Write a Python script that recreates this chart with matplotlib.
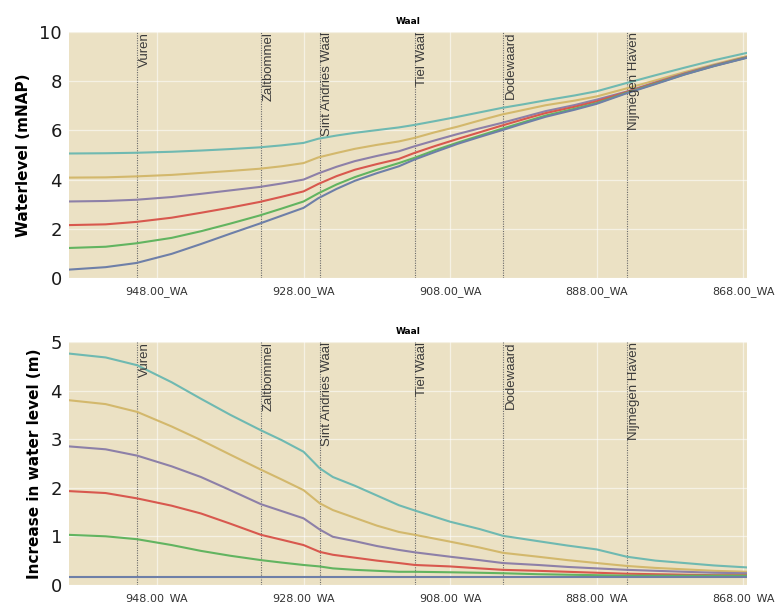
import matplotlib
matplotlib.use("Agg")
import matplotlib.pyplot as plt
from matplotlib.ticker import FixedLocator, FuncFormatter

# River kilometre stations along the Waal
km_level = [960, 955, 950.8, 946, 942, 938, 934, 931, 928, 926, 923.5, 921,
            918, 915, 912.9, 910, 907, 904, 901, 898, 895, 891, 888, 884, 880,
            876, 872, 867.5]
km_rise = [960, 955, 950.7, 946, 942, 938, 933.8, 931, 928, 925.8, 924, 921,
           918, 915, 912.8, 908, 904, 900.8, 896, 892, 888, 883.9, 880, 876,
           872, 867.5]

# Water level (m NAP) for six discharge scenarios
level_teal = [5.06, 5.07, 5.09, 5.13, 5.18, 5.24, 5.31, 5.39, 5.49, 5.66, 5.79,
              5.90, 6.01, 6.12, 6.22, 6.38, 6.55, 6.73, 6.91, 7.06, 7.22, 7.42,
              7.59, 7.92, 8.24, 8.55, 8.85, 9.15]
level_yellow = [4.08, 4.09, 4.13, 4.19, 4.27, 4.35, 4.44, 4.54, 4.67, 4.90, 5.08,
                5.25, 5.41, 5.55, 5.69, 5.93, 6.15, 6.40, 6.64, 6.83, 7.02, 7.21,
                7.38, 7.70, 8.03, 8.37, 8.68, 9.02]
level_purple = [3.11, 3.13, 3.18, 3.29, 3.42, 3.56, 3.70, 3.84, 4.00, 4.25, 4.52,
                4.75, 4.96, 5.15, 5.35, 5.60, 5.85, 6.08, 6.30, 6.54, 6.78, 7.03,
                7.25, 7.57, 7.95, 8.32, 8.65, 8.98]
level_red = [2.15, 2.18, 2.28, 2.45, 2.65, 2.86, 3.09, 3.30, 3.52, 3.82, 4.14,
             4.40, 4.63, 4.84, 5.08, 5.37, 5.65, 5.92, 6.19, 6.45, 6.70, 6.96,
             7.18, 7.55, 7.93, 8.30, 8.63, 8.97]
level_green = [1.22, 1.27, 1.41, 1.63, 1.90, 2.21, 2.54, 2.82, 3.11, 3.44, 3.80,
               4.10, 4.40, 4.67, 4.88, 5.20, 5.50, 5.78, 6.06, 6.33, 6.60, 6.88,
               7.11, 7.52, 7.90, 8.28, 8.62, 8.96]
level_blue = [0.34, 0.44, 0.61, 0.98, 1.38, 1.80, 2.21, 2.53, 2.85, 3.24, 3.62,
              3.95, 4.26, 4.54, 4.81, 5.13, 5.45, 5.73, 6.00, 6.28, 6.55, 6.84,
              7.08, 7.50, 7.88, 8.27, 8.61, 8.95]

# Increase in water level (m)
rise_teal = [4.76, 4.68, 4.52, 4.17, 3.83, 3.50, 3.18, 2.98, 2.74, 2.40, 2.22,
             2.04, 1.84, 1.64, 1.53, 1.30, 1.15, 1.01, 0.90, 0.81, 0.73, 0.58,
             0.50, 0.45, 0.40, 0.36]
rise_yellow = [3.80, 3.72, 3.56, 3.26, 2.98, 2.68, 2.37, 2.17, 1.95, 1.68, 1.54,
               1.38, 1.22, 1.09, 1.03, 0.89, 0.77, 0.66, 0.58, 0.51, 0.45, 0.39,
               0.35, 0.32, 0.29, 0.27]
rise_purple = [2.85, 2.79, 2.66, 2.44, 2.22, 1.95, 1.66, 1.52, 1.37, 1.14, 0.99,
               0.90, 0.80, 0.72, 0.67, 0.58, 0.51, 0.45, 0.41, 0.37, 0.34, 0.31,
               0.29, 0.27, 0.25, 0.24]
rise_red = [1.93, 1.89, 1.78, 1.63, 1.47, 1.26, 1.03, 0.93, 0.82, 0.68, 0.62,
            0.56, 0.50, 0.45, 0.41, 0.38, 0.34, 0.31, 0.29, 0.27, 0.25, 0.23,
            0.22, 0.21, 0.20, 0.20]
rise_green = [1.03, 1.00, 0.94, 0.82, 0.70, 0.60, 0.51, 0.46, 0.41, 0.38, 0.34,
              0.31, 0.29, 0.27, 0.27, 0.26, 0.25, 0.24, 0.22, 0.21, 0.20, 0.19,
              0.19, 0.19, 0.19, 0.19]
rise_blue = [0.17] * 26

# Named locations along the river
station_names = ["Vuren", "Zaltbommel", "Sint Andries Waal", "Tiel Waal",
                 "Dodewaard", "Nijmegen Haven"]
station_km = [950.7, 933.8, 925.8, 912.8, 900.8, 883.9]

x_ticks = [948, 928, 908, 888, 868]

colors = ["#6fb9b1", "#d3b86c", "#8d80a8", "#d8584e", "#62b460", "#6e7fa8"]
bg = "#ebe1c4"

fig = plt.figure(figsize=(7.77, 6.03), dpi=100)
ax1 = fig.add_axes([0.0888, 0.539, 0.8726, 0.408])
ax2 = fig.add_axes([0.0888, 0.030, 0.8726, 0.403])

panels = [
    (ax1, km_level, [level_teal, level_yellow, level_purple, level_red,
                     level_green, level_blue], (0, 10), [0, 2, 4, 6, 8, 10],
     "Waterlevel (mNAP)"),
    (ax2, km_rise, [rise_teal, rise_yellow, rise_purple, rise_red,
                    rise_green, rise_blue], (0, 5), [0, 1, 2, 3, 4, 5],
     "Increase in water level (m)"),
]

for ax, km, series, ylim, yticks, ylabel in panels:
    ax.set_facecolor(bg)
    for s in ax.spines.values():
        s.set_visible(False)
    ax.set_xlim(960, 867.5)
    ax.set_ylim(*ylim)
    ax.xaxis.set_major_locator(FixedLocator(x_ticks))
    ax.xaxis.set_major_formatter(FuncFormatter(lambda v, p: f"{v:.2f}_WA"))
    ax.set_yticks(yticks)
    ax.grid(True, color="white", alpha=0.55, linewidth=0.9)
    ax.set_axisbelow(True)
    ax.tick_params(axis="x", length=0, pad=6, labelsize=8, labelcolor="#333333")
    ax.tick_params(axis="y", length=0, pad=5, labelsize=13, labelcolor="#1a1a1a")
    for vals, c in zip(series, colors):
        ax.plot(km, vals, color=c, linewidth=1.5, zorder=3,
                solid_joinstyle="round")
    for name, k in zip(station_names, station_km):
        ax.axvline(k, color="#6a6a6a", linestyle=(0, (1, 1.2)), linewidth=0.8,
                   zorder=2)
        ax.text(k - 0.2, ylim[1], name, rotation=90, ha="left", va="top",
                fontsize=9.5, color="#3a3a3a", family="Liberation Sans",
                zorder=4)
    ax.set_ylabel(ylabel, fontsize=11, fontweight="bold", labelpad=6)
    ax.set_title("Waal", fontsize=6.5, fontweight="bold", pad=6)

fig.savefig("out.png", dpi=100, facecolor="white")
